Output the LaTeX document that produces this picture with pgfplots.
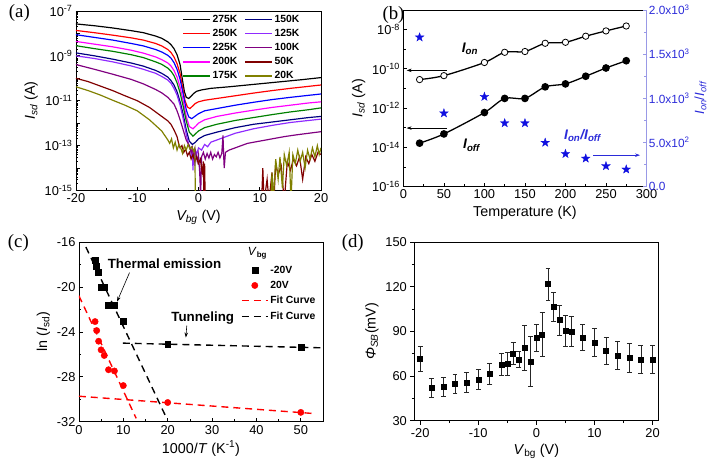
\documentclass[border=0pt]{standalone}
\usepackage{fontspec}
\setmainfont{Liberation Sans}
\newfontfamily\seriffont{Liberation Serif}
\usepackage{pgfplots}
\pgfplotsset{compat=1.18}
\usetikzlibrary{arrows.meta}

\definecolor{c275}{HTML}{000000}
\definecolor{c250}{HTML}{FF0000}
\definecolor{c225}{HTML}{0000FF}
\definecolor{c200}{HTML}{FF00FF}
\definecolor{c175}{HTML}{008000}
\definecolor{c150}{HTML}{000080}
\definecolor{c125}{HTML}{8F2BFF}
\definecolor{c100}{HTML}{800080}
\definecolor{c50}{HTML}{800000}
\definecolor{c20}{HTML}{808000}
\definecolor{axblue}{HTML}{9999E6}
\definecolor{tblue}{HTML}{2B2BD9}
\definecolor{starblue}{HTML}{1010E0}

\pgfdeclareplotmark{fstar}{%
 \pgfpathmoveto{\pgfpointpolar{90}{\pgfplotmarksize}}%
 \pgfpathlineto{\pgfpointpolar{126}{0.4*\pgfplotmarksize}}%
 \pgfpathlineto{\pgfpointpolar{162}{\pgfplotmarksize}}%
 \pgfpathlineto{\pgfpointpolar{198}{0.4*\pgfplotmarksize}}%
 \pgfpathlineto{\pgfpointpolar{234}{\pgfplotmarksize}}%
 \pgfpathlineto{\pgfpointpolar{270}{0.4*\pgfplotmarksize}}%
 \pgfpathlineto{\pgfpointpolar{306}{\pgfplotmarksize}}%
 \pgfpathlineto{\pgfpointpolar{342}{0.4*\pgfplotmarksize}}%
 \pgfpathlineto{\pgfpointpolar{18}{\pgfplotmarksize}}%
 \pgfpathlineto{\pgfpointpolar{54}{0.4*\pgfplotmarksize}}%
 \pgfpathclose
 \pgfusepathqfillstroke}

\pgfplotsset{
  panel/.style={
    scale only axis, anchor=south west,
    axis line style={line width=0.8pt},
    tick style={black, line width=0.7pt},
    major tick length=4bp, minor tick length=2.5bp,
    tick align=inside,
    xtick pos=left, ytick pos=left,
    ticklabel style={font=\fontsize{13}{13}\selectfont},
    label style={font=\fontsize{14.5}{15}\selectfont},
    /pgf/number format/assume math mode=true,
    legend image code/.code={\draw[#1,mark repeat=2,mark phase=2] plot coordinates {(0bp,0bp) (13bp,0bp) (26bp,0bp)};},
  },
}

\begin{document}
\def\aminor{}
\foreach \n in {-15,...,-8}{\foreach \k in {0.301,0.477,0.602,0.699,0.778,0.845,0.903,0.954}{\pgfmathsetmacro\v{\n+\k}\xdef\aminor{\aminor\v,}}}
\begin{tikzpicture}[x=1bp,y=1bp]
\path[use as bounding box] (0,0) rectangle (709,467);

% ---------------- (a)
\begin{axis}[panel, at={(71bp,275bp)}, width=247bp, height=181bp,
  xmin=-20, xmax=20, ymin=-15, ymax=-7,
  xtick={-20,-10,0,10,20}, minor xtick={-15,-5,5,15},
  ytick={-15,...,-7},
  yticklabels={10\textsuperscript{-15},,10\textsuperscript{-13},,10\textsuperscript{-11},,10\textsuperscript{-9},,10\textsuperscript{-7}},
  minor ytick/.expanded={\aminor-7},
  xlabel={\textit{V\textsubscript{bg}} (V)},
  ylabel={\textit{I\textsubscript{sd}} (A)},
  legend columns=2,
  legend style={draw=none, fill=none, at={(0.925,0.995)}, anchor=north east,
    font=\bfseries\fontsize{10.5}{11}\selectfont, row sep=1.5bp,
    /tikz/every even column/.append style={column sep=5bp}, inner sep=1bp},
  legend image code/.code={\draw[#1, line width=1.6pt] (0bp,0bp) -- (27bp,0bp);},
  legend cell align=left,
]
\addplot[c275, line width=1.2pt] coordinates {(-20,-7.58)(-17,-7.66)(-14,-7.76)(-11,-7.88)(-9,-7.97)(-7,-8.12)(-6,-8.22)(-5,-8.38)(-4.5,-8.5)(-4,-8.68)(-3.5,-8.95)(-3,-9.4)(-2.6,-10.1)(-2.3,-10.6)(-2,-10.85)(-1.6,-10.9)(-1.2,-10.8)(-0.8,-10.68)(-0.3,-10.58)(0.5,-10.52)(2,-10.45)(5,-10.38)(8,-10.3)(11,-10.22)(14,-10.14)(17,-10.06)(20,-9.97)};
\addlegendentry{275K}
\addplot[c150, line width=1.2pt] coordinates {(-20,-8.87)(-17,-9.0)(-14,-9.15)(-11,-9.32)(-9,-9.46)(-7,-9.65)(-6,-9.78)(-5,-9.95)(-4.5,-10.1)(-4,-10.3)(-3.5,-10.6)(-3,-11.05)(-2.5,-11.6)(-2,-12.3)(-1.5,-12.8)(-1,-12.95)(-0.5,-12.85)(0,-12.7)(1,-12.55)(3,-12.4)(6,-12.2)(9,-12.05)(12,-11.95)(15,-11.85)(18,-11.75)(20,-11.7)};
\addlegendentry{150K}
\addplot[c250, line width=1.2pt] coordinates {(-20,-7.87)(-17,-7.97)(-14,-8.08)(-11,-8.2)(-9,-8.3)(-7,-8.45)(-6,-8.56)(-5,-8.72)(-4.5,-8.85)(-4,-9.05)(-3.5,-9.35)(-3,-9.8)(-2.6,-10.4)(-2.2,-11.0)(-1.8,-11.28)(-1.4,-11.35)(-1,-11.25)(-0.5,-11.12)(0,-11.05)(1,-10.98)(3,-10.9)(6,-10.78)(9,-10.66)(12,-10.55)(15,-10.45)(18,-10.36)(20,-10.3)};
\addlegendentry{250K}
\addplot[c125, line width=1.2pt] coordinates {(-20,-9.0)(-17,-9.12)(-14,-9.27)(-11,-9.45)(-9,-9.6)(-7,-9.78)(-6,-9.92)(-5,-10.08)(-4.5,-10.22)(-4,-10.45)(-3.5,-10.75)(-3,-11.2)(-2.5,-11.8)(-2,-12.5)(-1.6,-12.95)(-1.3,-13.15)(-1.1,-13.6)(-1,-13.2)(-0.9,-14.1)(-0.8,-13.3)(-0.6,-13.9)(-0.5,-13.2)(-0.3,-13.4)(0,-13.1)(0.5,-13.2)(1,-12.95)(1.5,-13.05)(2,-12.85)(3,-12.75)(6,-12.45)(9,-12.25)(12,-12.1)(15,-11.97)(18,-11.88)(20,-11.82)};
\addlegendentry{125K}
\addplot[c225, line width=1.2pt] coordinates {(-20,-8.06)(-17,-8.18)(-14,-8.3)(-11,-8.45)(-9,-8.56)(-7,-8.72)(-6,-8.83)(-5,-8.98)(-4.5,-9.1)(-4,-9.3)(-3.5,-9.6)(-3,-10.05)(-2.5,-10.7)(-2,-11.4)(-1.6,-11.72)(-1.1,-11.8)(-0.6,-11.7)(0,-11.58)(1,-11.45)(3,-11.35)(6,-11.2)(9,-11.07)(12,-10.95)(15,-10.85)(18,-10.76)(20,-10.7)};
\addlegendentry{225K}
\addplot[c100, line width=1.2pt] coordinates {(-20,-9.39)(-17,-9.6)(-14,-9.82)(-11,-10.05)(-9,-10.25)(-7,-10.5)(-6,-10.65)(-5,-10.85)(-4,-11.15)(-3.5,-11.45)(-3,-11.85)(-2.5,-12.3)(-2,-12.75)(-1.5,-13.0)(-1.2,-13.3)(-1,-13.1)(-0.8,-13.5)(-0.5,-13.25)(-0.2,-13.7)(0,-13.4)(0.2,-14.2)(0.35,-15.3)(0.5,-13.5)(0.8,-13.3)(1.1,-13.6)(1.4,-13.35)(1.7,-13.55)(2,-13.3)(2.3,-13.6)(2.6,-13.4)(2.9,-13.5)(3.2,-13.3)(3.5,-13.55)(3.8,-13.35)(4,-12.55)(4.1,-13.4)(4.2,-14.0)(4.4,-13.3)(5,-13.2)(6,-13.1)(7,-13.0)(8,-12.9)(10,-12.8)(12,-12.7)(14,-12.6)(16,-12.52)(18,-12.45)(20,-12.38)};
\addlegendentry{100K}
\addplot[c200, line width=1.2pt] coordinates {(-20,-8.36)(-17,-8.48)(-14,-8.6)(-11,-8.75)(-9,-8.88)(-7,-9.05)(-6,-9.17)(-5,-9.32)(-4.5,-9.45)(-4,-9.65)(-3.5,-9.95)(-3,-10.4)(-2.5,-11.0)(-2,-11.7)(-1.5,-12.15)(-0.9,-12.25)(-0.4,-12.12)(0,-12.0)(1,-11.85)(3,-11.7)(6,-11.55)(9,-11.42)(12,-11.3)(15,-11.2)(18,-11.1)(20,-11.05)};
\addlegendentry{200K}
\addplot[c50, line width=1.2pt] coordinates {(-20,-10.0)(-18,-10.15)(-16,-10.35)(-14,-10.55)(-12,-10.78)(-10,-11.0)(-8,-11.3)(-7,-11.5)(-6,-11.7)(-5,-11.9)(-4.5,-12.05)(-4,-12.3)(-3.5,-12.6)(-3.2,-12.95)(-3,-13.1)(-2.7,-13.0)(-2.4,-13.3)(-2.1,-13.15)(-1.8,-13.45)(-1.5,-13.3)(-1.2,-13.6)(-0.9,-13.4)(-0.6,-13.7)(-0.3,-13.5)(0,-13.8)(0.3,-13.6)(0.6,-14.2)(0.8,-13.7)(0.9,-15.5)(1.0,-13.8)(1.1,-15.5)(10.3,-15.5)(10.5,-14.0)(10.7,-15.5)(11.2,-14.5)(11.5,-15.5)(12,-14.2)(12.3,-15.5)(12.6,-13.8)(13,-14.3)(13.5,-13.9)(14,-15.5)(14.5,-13.7)(15,-14.1)(15.5,-13.6)(16,-13.9)(16.5,-13.5)(17,-14.5)(17.5,-13.5)(18,-13.8)(18.5,-13.4)(19,-13.7)(19.5,-13.3)(20,-13.4)};
\addlegendentry{50K}
\addplot[c175, line width=1.2pt] coordinates {(-20,-8.55)(-17,-8.68)(-14,-8.8)(-11,-8.95)(-9,-9.08)(-7,-9.27)(-6,-9.38)(-5,-9.55)(-4.5,-9.68)(-4,-9.88)(-3.5,-10.2)(-3,-10.65)(-2.5,-11.25)(-2,-11.9)(-1.5,-12.4)(-0.9,-12.58)(-0.4,-12.45)(0,-12.35)(1,-12.2)(3,-12.05)(6,-11.88)(9,-11.75)(12,-11.62)(15,-11.5)(18,-11.4)(20,-11.32)};
\addlegendentry{175K}
\addplot[c20, line width=1.2pt] coordinates {(-20,-10.38)(-18,-10.55)(-16,-10.75)(-14,-10.98)(-12,-11.2)(-10,-11.45)(-8,-11.85)(-7,-12.1)(-6,-12.35)(-5.5,-12.55)(-5,-12.75)(-4.7,-12.9)(-4.4,-12.7)(-4.1,-13.1)(-3.8,-12.85)(-3.5,-13.2)(-3.2,-12.95)(-2.9,-13.1)(-2.6,-13.35)(-2.3,-13.0)(-2,-13.2)(-1.7,-12.95)(-1.4,-13.15)(-1.1,-13.05)(-0.8,-13.25)(-0.6,-13.1)(-0.5,-15.5)(11.8,-15.5)(12,-14.2)(12.2,-15.5)(12.6,-13.6)(13,-14.5)(13.3,-13.5)(13.7,-14.9)(14,-13.4)(14.4,-13.9)(14.8,-13.3)(15.1,-15.5)(15.4,-13.4)(15.8,-13.8)(16.2,-13.2)(16.6,-13.7)(17,-13.3)(17.4,-14.0)(17.8,-13.2)(18.2,-13.6)(18.6,-13.1)(19,-13.5)(19.4,-13.0)(19.7,-13.4)(20,-13.1)};
\addlegendentry{20K}
\end{axis}

% ---------------- (b) left
\begin{axis}[panel, at={(401bp,279bp)}, width=245bp, height=178bp,
  xmin=0, xmax=300, ymin=-16, ymax=-7,
  xtick={0,50,...,300}, minor xtick={25,75,...,275},
  ytick={-16,-14,-12,-10,-8}, minor ytick={-15,-13,-11,-9,-7},
  yticklabels={10\textsuperscript{-16},10\textsuperscript{-14},10\textsuperscript{-12},10\textsuperscript{-10},10\textsuperscript{-8}},
  xlabel={Temperature (K)},
  ylabel={\textit{I\textsubscript{sd}} (A)},
]
\addplot[black, line width=1.3pt, smooth, tension=0.5, mark=*, mark size=3.2bp, mark options={fill=white, line width=0.8pt}]
 coordinates {(20,-10.55)(50,-10.35)(100,-9.68)(125,-9.16)(150,-9.12)(175,-8.70)(200,-8.65)(225,-8.34)(250,-8.07)(275,-7.82)};
\addplot[black, line width=1.3pt, smooth, tension=0.5, mark=*, mark size=3.2bp]
 coordinates {(20,-13.79)(50,-13.32)(100,-12.23)(125,-11.51)(150,-11.51)(175,-10.92)(200,-10.77)(225,-10.38)(250,-9.96)(275,-9.59)};
\draw[-{Stealth[length=5bp,width=3.5bp]}, line width=0.7pt] (axis cs:54,-10.08) -- (axis cs:4,-10.08);
\draw[-{Stealth[length=5bp,width=3.5bp]}, line width=0.7pt] (axis cs:54,-13.02) -- (axis cs:4,-13.02);
\node[font=\bfseries\itshape\fontsize{14}{14}\selectfont] at (axis cs:82,-9.0) {I\textsubscript{on}};
\node[font=\bfseries\itshape\fontsize{14}{14}\selectfont] at (axis cs:84,-13.9) {I\textsubscript{off}};
\node[font=\bfseries\itshape\fontsize{14}{14}\selectfont, text=tblue] at (axis cs:221,-13.4) {I\textsubscript{on}/I\textsubscript{off}};
\end{axis}

% ---------------- (b) right
\begin{axis}[panel, at={(401bp,279bp)}, width=245bp, height=178bp,
  xmin=0, xmax=300, ymin=0, ymax=2000,
  axis x line=none, axis y line*=right, ytick pos=right,
  y axis line style={draw=axblue, line width=0.8pt},
  tick style={axblue, line width=0.7pt},
  ytick={0,500,1000,1500,2000}, minor ytick={250,750,1250,1750},
  yticklabels={0.0,5.0x10\textsuperscript{2},1.0x10\textsuperscript{3},1.5x10\textsuperscript{3},2.0x10\textsuperscript{3}},
  yticklabel style={text=tblue, font=\fontsize{12}{12}\selectfont, xshift=-1bp},
  ylabel={\textit{I\textsubscript{on}}/\textit{I\textsubscript{off}}},
  ylabel style={text=tblue, font=\fontsize{13.5}{14}\selectfont, at={(rel axis cs:1.222,0.5)}, anchor=center, rotate=0},
]
\addplot[only marks, mark=fstar, mark size=4.6bp, starblue, mark options={fill=starblue, line width=0.3pt}]
 coordinates {(20,1690)(50,830)(100,1017)(125,718)(150,718)(175,497)(200,370)(225,318)(250,232)(275,194)};
\draw[-{Stealth[length=5bp,width=3.5bp]}, line width=0.8pt, tblue] (axis cs:234,355) -- (axis cs:292,355);
\end{axis}

% ---------------- (c)
\begin{axis}[panel, at={(74bp,42bp)}, width=246bp, height=181bp,
  xmin=0, xmax=55, ymin=-32, ymax=-16,
  xtick={0,10,...,50}, minor xtick={5,15,...,55},
  ytick={-32,-28,-24,-20,-16}, minor ytick={-30,-26,-22,-18},
  xlabel={1000/\textit{T} (K\textsuperscript{-1})},
  ylabel={ln (\textit{I}\textsubscript{sd})},
  legend style={draw=none, fill=none, at={(0.66,0.885)}, anchor=north west,
    font=\bfseries\fontsize{10.5}{11}\selectfont, row sep=2.5bp, inner sep=1bp},
  legend cell align=left,
]
\addplot[only marks, mark=square*, mark size=3bp, black]
 coordinates {(3.64,-17.59)(4.0,-18.13)(4.44,-18.66)(5.0,-19.99)(5.71,-20.04)(6.67,-21.58)(8.0,-21.6)(10,-23.08)(20,-25.06)(50,-25.36)};
\addlegendentry{-20V}
\addplot[only marks, mark=*, mark size=3.2bp, red]
 coordinates {(3.64,-23.08)(4.0,-23.88)(4.44,-24.83)(5.0,-25.6)(5.71,-26.1)(6.67,-27.37)(8.0,-27.48)(10,-28.78)(20,-30.29)(50,-31.17)};
\addlegendentry{20V}
\addplot[red, line width=1.4pt, dash pattern=on 7bp off 5bp] coordinates {(0,-20.78)(12.9,-31.7)};
\addlegendentry{Fit Curve}
\addplot[red, line width=1.4pt, dash pattern=on 7bp off 5bp, forget plot] coordinates {(0,-29.73)(52.5,-31.26)};
\addplot[black, line width=1.4pt, dash pattern=on 7bp off 5bp] coordinates {(1.57,-16.44)(19.6,-31.56)};
\addlegendentry{Fit Curve}
\addplot[black, line width=1.4pt, dash pattern=on 7bp off 5bp, forget plot] coordinates {(9.9,-25.0)(55,-25.42)};
\node[anchor=west, font=\fontsize{12}{12}\selectfont] at (axis cs:37.3,-17.0) {\textit{V}\textsubscript{\textbf{bg}}};
\node[font=\bfseries\fontsize{13.5}{14}\selectfont] at (axis cs:19.3,-17.9) {Thermal emission};
\node[font=\bfseries\fontsize{13.5}{14}\selectfont] at (axis cs:27.9,-22.8) {Tunneling};
\draw[-{Stealth[length=5bp,width=3.5bp]}, line width=0.6pt] (axis cs:11.4,-18.72) -- (axis cs:8.6,-21.3);
\draw[-{Stealth[length=5bp,width=3.5bp]}, line width=0.6pt] (axis cs:24.3,-23.45) -- (axis cs:24.1,-24.5);
\end{axis}

% ---------------- (d)
\begin{axis}[panel, at={(412bp,43bp)}, width=246bp, height=180bp,
  xmin=-21, xmax=21, ymin=30, ymax=150,
  xtick={-20,-10,0,10,20}, minor xtick={-15,-5,5,15},
  ytick={30,60,...,150}, minor ytick={45,75,105,135},
  tick align=outside,
  xlabel={\textit{V}\textsubscript{bg} (V)},
  ylabel={\textit{Φ}\textsubscript{\textit{SB}}(mV)},
]
\addplot[only marks, mark=square*, mark size=2.5bp, black,
  error bars/.cd, y dir=both, y explicit,
  error bar style={line width=0.8pt, black!85},
  error mark options={rotate=90, mark size=2.5bp, line width=0.8pt, black!85}]
 table[row sep=\\, x=x, y=y, y error=e] {
 x y e\\
 -20 71.8 8.4\\ -18 52.0 6.2\\ -16 52.7 6.5\\ -14 54.9 6.5\\ -12 55.8 6.5\\
 -10 57.8 6.8\\ -8 61.6 6.9\\ -6 67.8 7.5\\ -5 68.2 7.5\\ -4 75.1 7.3\\
 -3 71.1 5.5\\ -2 78.9 15.2\\ -1 69.8 16.9\\ 0 85.6 9.2\\ 1 88.0 14.5\\
 2 121.8 10.8\\ 3 106.4 9.7\\ 4 97.6 10\\ 5 90.4 10.5\\ 6 90.0 10\\
 8 86.0 8.9\\ 10 82.7 9.2\\ 12 76.9 9.1\\ 14 74.0 9.4\\ 16 72.2 9.5\\
 18 71.3 9.4\\ 20 71.3 9.6\\
 };
\end{axis}

\node[font=\seriffont\fontsize{19}{19}\selectfont] at (14bp,454bp) {(a)};
\node[font=\seriffont\fontsize{19}{19}\selectfont] at (391bp,452bp) {(b)};
\node[font=\seriffont\fontsize{19}{19}\selectfont] at (13bp,222bp) {(c)};
\node[font=\seriffont\fontsize{19}{19}\selectfont] at (350bp,222bp) {(d)};
\end{tikzpicture}
\end{document}
